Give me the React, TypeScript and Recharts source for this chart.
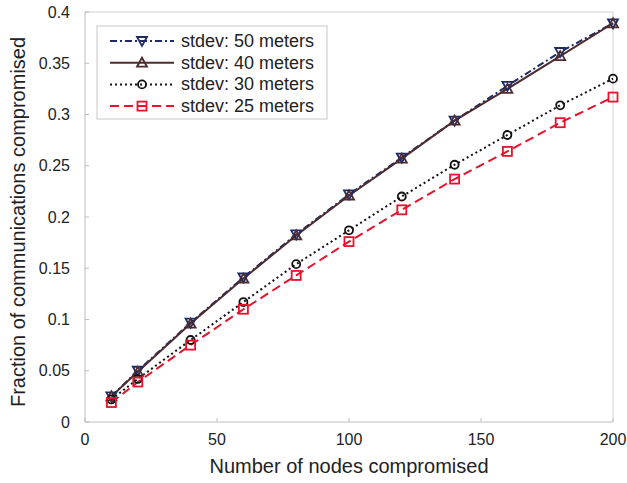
import React from "react";
import { LineChart, Line, XAxis, YAxis, ReferenceLine } from "recharts";

const nodes = [10, 20, 40, 60, 80, 100, 120, 140, 160, 180, 200];
const stdev50 = [0.025, 0.05, 0.097, 0.141, 0.183, 0.222, 0.258, 0.294, 0.328, 0.361, 0.389];
const stdev40 = [0.025, 0.049, 0.096, 0.14, 0.182, 0.221, 0.257, 0.294, 0.325, 0.357, 0.389];
const stdev30 = [0.022, 0.042, 0.08, 0.117, 0.154, 0.187, 0.22, 0.251, 0.28, 0.309, 0.335];
const stdev25 = [0.019, 0.039, 0.075, 0.11, 0.143, 0.176, 0.207, 0.237, 0.264, 0.292, 0.317];
const xTicks = [0, 50, 100, 150, 200];
const yTicks = [0, 0.05, 0.1, 0.15, 0.2, 0.25, 0.3, 0.35, 0.4];

const data = nodes.map((n, i) => ({
  n,
  s50: stdev50[i],
  s40: stdev40[i],
  s30: stdev30[i],
  s25: stdev25[i],
}));

type Shape = "down" | "up" | "circle" | "square";

const series: { key: string; name: string; color: string; dash?: string; shape: Shape }[] = [
  { key: "s50", name: "stdev: 50 meters", color: "#1e2b66", dash: "7 3 2 3", shape: "down" },
  { key: "s40", name: "stdev: 40 meters", color: "#4d2b2f", shape: "up" },
  { key: "s30", name: "stdev: 30 meters", color: "#111111", dash: "2 3", shape: "circle" },
  { key: "s25", name: "stdev: 25 meters", color: "#e3142c", dash: "9 5", shape: "square" },
];

function Marker({ cx, cy, shape, color }: { cx: number; cy: number; shape: Shape; color: string }) {
  const s = 5;
  if (shape === "down")
    return <polygon points={`${cx - s},${cy - s * 0.8} ${cx + s},${cy - s * 0.8} ${cx},${cy + s}`} fill="none" stroke={color} strokeWidth={1.8} />;
  if (shape === "up")
    return <polygon points={`${cx - s},${cy + s * 0.8} ${cx + s},${cy + s * 0.8} ${cx},${cy - s}`} fill="none" stroke={color} strokeWidth={1.8} />;
  if (shape === "circle") return <circle cx={cx} cy={cy} r={4} fill="none" stroke={color} strokeWidth={1.8} />;
  return <rect x={cx - 4.5} y={cy - 4.5} width={9} height={9} fill="none" stroke={color} strokeWidth={1.8} />;
}

const font = "'Liberation Sans', Arial, sans-serif";

// legend box and axis titles drawn on top of the chart
function Overlay() {
  return (
    <svg style={{ position: "absolute", left: 0, top: 0, pointerEvents: "none" }} width={627} height={483}>
      <rect x={97} y={26} width={230} height={93} fill="#fff" stroke="#c8c8c8" strokeWidth={1} />
      {series.map((s, i) => {
        const y = 41 + i * 21.7;
        return (
          <g key={s.key}>
            <line x1={110} x2={174} y1={y} y2={y} stroke={s.color} strokeWidth={2} strokeDasharray={s.dash} />
            <Marker cx={142} cy={y} shape={s.shape} color={s.color} />
            <text x={181} y={y + 6} fontSize={18} fontFamily={font} fill="#222">
              {s.name}
            </text>
          </g>
        );
      })}
      <text x={349} y={473} textAnchor="middle" fontSize={20} fontFamily={font} fill="#222">
        Number of nodes compromised
      </text>
      <text x={25} y={222} transform="rotate(-90 25 222)" textAnchor="middle" fontSize={20} fontFamily={font} fill="#222">
        Fraction of communications compromised
      </text>
    </svg>
  );
}

export default function App() {
  const tick = { fontSize: 16, fontFamily: font, fill: "#222" };
  return (
    <div style={{ position: "absolute", left: 0, top: 0, width: 627, height: 483, background: "#fff" }}>
      <LineChart width={627} height={483} data={data} margin={{ top: 12, right: 14, left: 25, bottom: 11 }}>
        <XAxis
          dataKey="n"
          type="number"
          domain={[0, 200]}
          ticks={xTicks}
          tick={tick}
          stroke="#bdbdbd"
          tickSize={-4}
          tickMargin={16}
          height={50}
        />
        <YAxis
          type="number"
          domain={[0, 0.4]}
          ticks={yTicks}
          tick={tick}
          stroke="#bdbdbd"
          tickSize={-4}
          tickMargin={19}
          width={60}
        />
        <ReferenceLine y={0.4} stroke="#d0d0d0" />
        <ReferenceLine x={200} stroke="#d0d0d0" />
        {series.map((s) => (
          <Line
            key={s.key}
            dataKey={s.key}
            name={s.name}
            stroke={s.color}
            strokeWidth={2}
            strokeDasharray={s.dash}
            isAnimationActive={false}
            dot={(p: any) => <Marker key={`${s.key}-${p.index}`} cx={p.cx} cy={p.cy} shape={s.shape} color={s.color} />}
            activeDot={false}
          />
        ))}
      </LineChart>
      <Overlay />
    </div>
  );
}
